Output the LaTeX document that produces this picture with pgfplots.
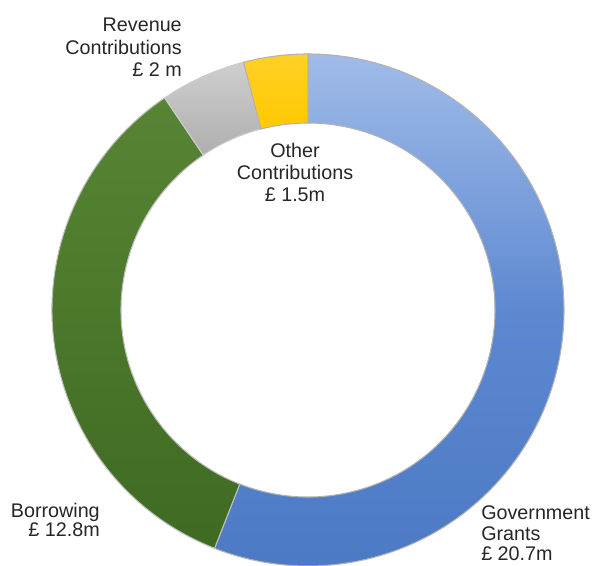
\documentclass[border=0pt]{standalone}
\usepackage{pgfplots}
\pgfplotsset{compat=1.18}
\usepackage{pgfplotstable}
\usepackage{fontspec}
\setmainfont{Liberation Sans}
\definecolor{gblueT}{HTML}{A0BBE8}
\definecolor{gblueM}{HTML}{5C88D0}
\definecolor{gblueB}{HTML}{4C79C4}
\definecolor{ggreenT}{HTML}{578534}
\definecolor{ggreenB}{HTML}{3E6A22}
\definecolor{ggray}{HTML}{C2C2C2}
\definecolor{gyellow}{HTML}{FFC800}
\pgfplotstableread{
label value
Government 20.7
Borrowing 12.8
Revenue 2
Other 1.5
}\datatable
\pgfplotstablegetelem{0}{value}\of\datatable \let\vA\pgfplotsretval
\pgfplotstablegetelem{1}{value}\of\datatable \let\vB\pgfplotsretval
\pgfplotstablegetelem{2}{value}\of\datatable \let\vC\pgfplotsretval
\pgfplotstablegetelem{3}{value}\of\datatable \let\vD\pgfplotsretval
\pgfmathsetmacro{\tot}{\vA+\vB+\vC+\vD}
\pgfmathsetmacro{\aA}{90}
\pgfmathsetmacro{\aB}{90-360*\vA/\tot}
\pgfmathsetmacro{\aC}{\aB-360*\vB/\tot}
\pgfmathsetmacro{\aD}{\aC-360*\vC/\tot}
\pgfmathsetmacro{\aE}{\aD-360*\vD/\tot}
\def\cx{308}\def\cy{256}
\newcommand{\sector}[3]{%
  \path[#3] (axis cs:{\cx+256*cos(#1)},{\cy+256*sin(#1)})
     arc[start angle=#1, end angle=#2, radius=192pt]
     -- (axis cs:{\cx+187*cos(#2)},{\cy+187*sin(#2)})
     arc[start angle=#2, end angle=#1, radius=140.25pt] -- cycle;}
\tikzset{lbl/.style={font=\fontsize{14.8}{18}\selectfont, inner sep=0pt, text=black!85}}
\begin{document}
\begin{tikzpicture}
\begin{axis}[
  width=444pt, height=424.5pt, scale only axis,
  xmin=0, xmax=592, ymin=0, ymax=566,
  hide axis, clip=false,
]
\sector{\aA}{\aB}{top color=gblueT, bottom color=gblueB, middle color=gblueM, draw=gray!60, line width=0.8pt}
\sector{\aB}{\aC}{top color=ggreenT, bottom color=ggreenB, draw=gray!50, line width=0.8pt}
\sector{\aC}{\aD}{top color=ggray!80!white, bottom color=ggray!90!black, draw=gray!40, line width=0.8pt}
\sector{\aD}{\aE}{top color=gyellow!85!white, bottom color=gyellow, draw=gray!60, line width=0.8pt}
% labels
\node[lbl, anchor=base east] at (axis cs:182,534) {Revenue};
\node[lbl, anchor=base east] at (axis cs:182,511) {Contributions};
\node[lbl, anchor=base east] at (axis cs:182,489) {£ 2 m};
\node[lbl, anchor=base] at (axis cs:295,408) {Other};
\node[lbl, anchor=base] at (axis cs:295,386) {Contributions};
\node[lbl, anchor=base] at (axis cs:295,364) {£ 1.5m};
\node[lbl, anchor=base east] at (axis cs:100,48) {Borrowing};
\node[lbl, anchor=base east] at (axis cs:100,29) {£ 12.8m};
\node[lbl, anchor=base west] at (axis cs:481,46) {Government};
\node[lbl, anchor=base west] at (axis cs:481,25) {Grants};
\node[lbl, anchor=base west] at (axis cs:481,5) {£ 20.7m};
\end{axis}
\pgfresetboundingbox
\useasboundingbox (current axis.south west) rectangle (current axis.north east);
\end{tikzpicture}
\end{document}
